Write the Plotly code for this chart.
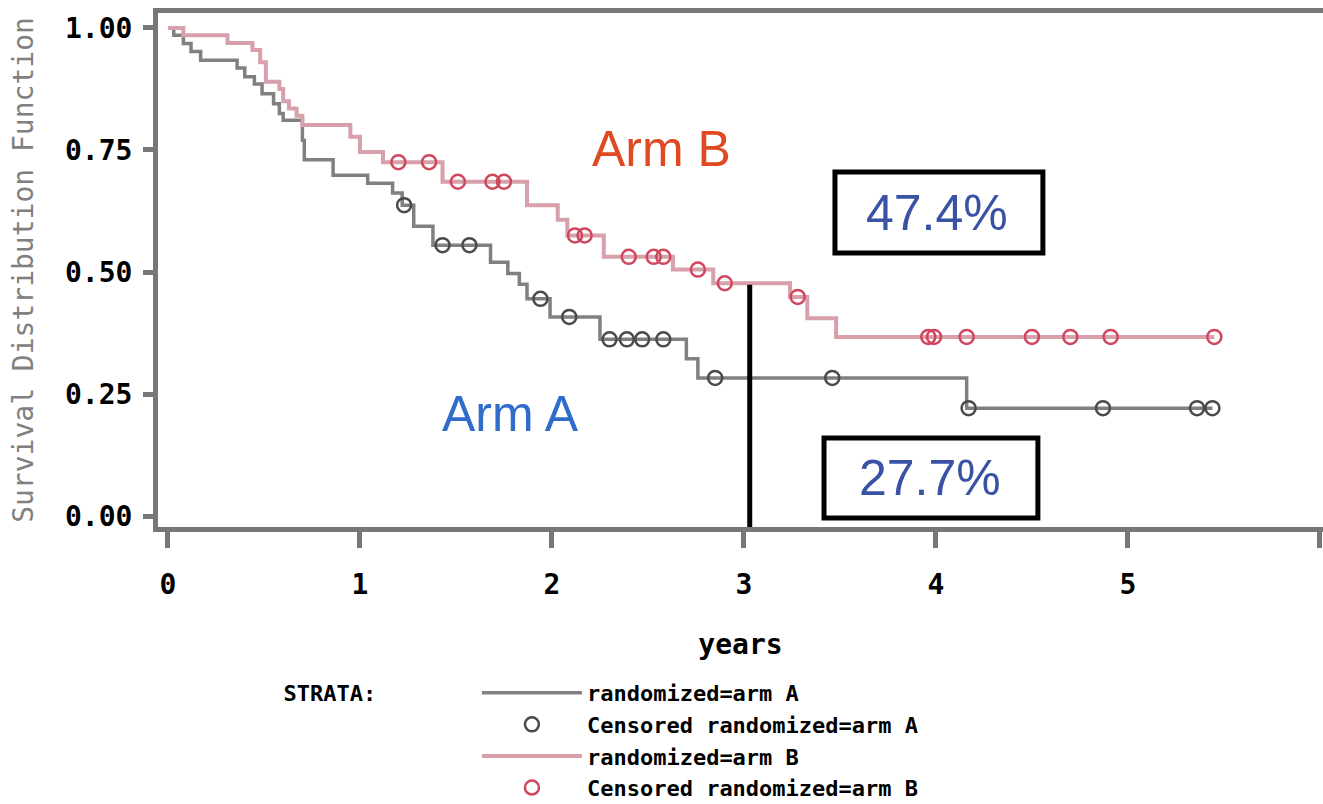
import numpy as np
import plotly.graph_objects as go

# ---- data ----
arm_a_time = [0, 0.03, 0.08, 0.12, 0.17, 0.36, 0.40, 0.45, 0.49, 0.55, 0.58, 0.60,
              0.70, 0.71, 0.86, 1.04, 1.17, 1.22, 1.28, 1.38, 1.68, 1.77, 1.83, 1.87,
              1.99, 2.25, 2.70, 2.76, 4.16, 5.44]
arm_a_surv = [1.0, 0.985, 0.968, 0.952, 0.934, 0.918, 0.900, 0.885, 0.865, 0.845, 0.825, 0.811,
              0.770, 0.730, 0.698, 0.682, 0.662, 0.637, 0.594, 0.555, 0.520, 0.497, 0.475, 0.445,
              0.408, 0.362, 0.322, 0.283, 0.221, 0.221]
arm_a_censor = [1.23, 1.43, 1.57, 1.94, 2.09, 2.30, 2.39, 2.47, 2.58, 2.85, 3.46, 4.17,
                4.87, 5.36, 5.44]

arm_b_time = [0, 0.08, 0.31, 0.44, 0.48, 0.51, 0.58, 0.60, 0.63, 0.67, 0.70, 0.95, 1.00,
              1.12, 1.43, 1.87, 2.03, 2.08, 2.27, 2.63, 2.84, 3.24, 3.33, 3.48, 5.45]
arm_b_surv = [1.0, 0.985, 0.969, 0.955, 0.930, 0.890, 0.875, 0.850, 0.835, 0.820, 0.801, 0.777, 0.746,
              0.725, 0.685, 0.637, 0.607, 0.575, 0.531, 0.505, 0.477, 0.449, 0.405, 0.367, 0.367]
arm_b_censor = [1.20, 1.36, 1.51, 1.69, 1.75, 2.12, 2.17, 2.40, 2.53, 2.58, 2.76, 2.90, 3.28,
                3.96, 3.99, 4.16, 4.50, 4.70, 4.91, 5.45]

x_ticks = [0, 1, 2, 3, 4, 5, 6]
y_ticks = [0.00, 0.25, 0.50, 0.75, 1.00]
ref_time = 3.03
ref_surv_b = 0.474
label_b = "47.4%"
label_a = "27.7%"


def step_value(times, surv, t):
    idx = np.searchsorted(np.asarray(times), t, side="right") - 1
    return np.asarray(surv)[idx]


a_cens_y = [step_value(arm_a_time, arm_a_surv, t) for t in arm_a_censor]
b_cens_y = [step_value(arm_b_time, arm_b_surv, t) for t in arm_b_censor]

MONO = "DejaVu Sans Mono"
SANS = "Liberation Sans, Arial, sans-serif"

fig = go.Figure()
fig.add_trace(go.Scatter(x=arm_a_time, y=arm_a_surv, mode="lines", line_shape="hv",
                         line=dict(color="#808080", width=3.5), name="randomized=arm A"))
fig.add_trace(go.Scatter(x=arm_a_censor, y=a_cens_y, mode="markers",
                         marker=dict(symbol="circle-open", size=14, color="#4a4a4a",
                                     line=dict(width=2.5, color="#4a4a4a")),
                         name="Censored randomized=arm A"))
fig.add_trace(go.Scatter(x=arm_b_time, y=arm_b_surv, mode="lines", line_shape="hv",
                         line=dict(color="#d8a0aa", width=4), name="randomized=arm B"))
fig.add_trace(go.Scatter(x=arm_b_censor, y=b_cens_y, mode="markers",
                         marker=dict(symbol="circle-open", size=14, color="#d0465e",
                                     line=dict(width=2.5, color="#d0465e")),
                         name="Censored randomized=arm B"))

x_range = [-0.052, 6.016]
y_range = [-0.0225, 1.0307]

# vertical reference line at 3 years
fig.add_shape(type="line", xref="x", yref="y", x0=ref_time, x1=ref_time,
              y0=y_range[0], y1=ref_surv_b, line=dict(color="black", width=5))
# boxes
fig.add_shape(type="rect", xref="x", yref="y", x0=3.474, x1=4.557, y0=0.539, y1=0.705,
              line=dict(color="black", width=5), fillcolor="rgba(0,0,0,0)")
fig.add_shape(type="rect", xref="x", yref="y", x0=3.417, x1=4.531, y0=-0.004, y1=0.160,
              line=dict(color="black", width=5), fillcolor="rgba(0,0,0,0)")

fig.add_annotation(x=4.005, y=0.621, xref="x", yref="y", text=label_b, showarrow=False,
                   font=dict(family=SANS, size=50, color="#3a52a4"))
fig.add_annotation(x=3.97, y=0.078, xref="x", yref="y", text=label_a, showarrow=False,
                   font=dict(family=SANS, size=50, color="#3a52a4"))
fig.add_annotation(x=2.568, y=0.752, xref="x", yref="y", text="Arm B", showarrow=False,
                   font=dict(family=SANS, size=50, color="#e04a22"))
fig.add_annotation(x=1.786, y=0.209, xref="x", yref="y", text="Arm A", showarrow=False,
                   font=dict(family=SANS, size=50, color="#2f6ccc"))

fig.update_xaxes(range=x_range, tickvals=x_ticks, ticktext=[str(v) for v in x_ticks],
                 showgrid=False, zeroline=False, showline=True, linecolor="#777777",
                 linewidth=5, mirror=True, ticks="outside", ticklen=16, tickwidth=5,
                 tickcolor="#777777", ticklabelstandoff=12, automargin=False,
                 tickfont=dict(family=MONO, size=28, color="black", weight="bold"),
                 title=dict(text="years", standoff=36,
                            font=dict(family=MONO, size=28, color="black", weight="bold")))
fig.update_yaxes(range=y_range, tickvals=y_ticks, tickformat=".2f",
                 showgrid=False, zeroline=False, showline=True, linecolor="#777777",
                 linewidth=5, mirror=False, ticks="outside", ticklen=10, tickwidth=5,
                 tickcolor="#777777", ticklabelstandoff=5, automargin=False,
                 tickfont=dict(family=MONO, size=28, color="black", weight="bold"),
                 title=dict(text="Survival Distribution Function", standoff=25,
                            font=dict(family=MONO, size=28, color="#808080")))

fig.update_layout(
    width=1323, height=804,
    margin=dict(l=158, r=0, t=13, b=277, autoexpand=False),
    paper_bgcolor="white", plot_bgcolor="white",
    showlegend=True,
    legend=dict(x=0.106, y=-0.282, xanchor="left", yanchor="top",
                orientation="v", itemwidth=100, tracegroupgap=0,
                bgcolor="rgba(0,0,0,0)",
                title=dict(text="STRATA:" + "\u00a0" * 7, side="left",
                           font=dict(family=MONO, size=22, color="black", weight="bold")),
                font=dict(family=MONO, size=22, color="black", weight="bold")),
)

fig.write_html("out.html",
               config={"displayModeBar": False},
               post_script="document.body.style.margin='0';"
                           "document.body.style.overflow='hidden';")
